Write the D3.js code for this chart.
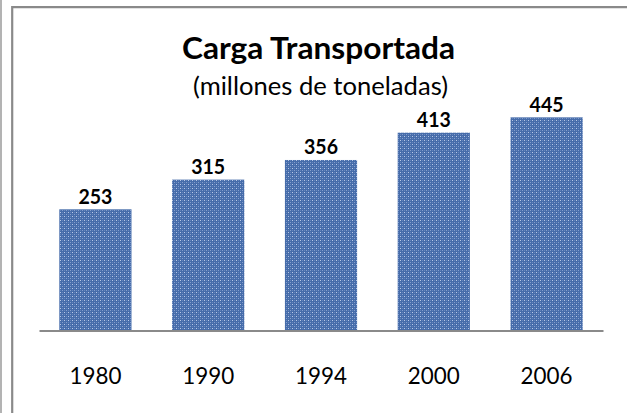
<!DOCTYPE html>
<html>
<head>
<meta charset="utf-8">
<script src="https://cdn.jsdelivr.net/npm/d3@7"></script>
<style>
  body { margin: 0; background: #fff; }
  text { font-family: Lato, "Open Sans", sans-serif; fill: #000; }
</style>
</head>
<body>
<div id="chart-area"></div>
<script>
// Data
var years = ["1980", "1990", "1994", "2000", "2006"];
var values = [253, 315, 356, 413, 445];
var title = "Carga Transportada";
var subtitle = "(millones de toneladas)";

var width = 627;
var height = 413;

var svg = d3.select("#chart-area")
    .append("svg")
    .attr("width", width)
    .attr("height", height);

// dotted fill for the bars
var pat = svg.append("defs").append("pattern")
    .attr("id", "dots")
    .attr("width", 4)
    .attr("height", 4)
    .attr("patternUnits", "userSpaceOnUse");
pat.append("rect").attr("width", 4).attr("height", 4).attr("fill", "#466caa");
pat.append("rect").attr("x", 0).attr("y", 0).attr("width", 1).attr("height", 1).attr("fill", "#b8c8e6");
pat.append("rect").attr("x", 2).attr("y", 2).attr("width", 1).attr("height", 1).attr("fill", "#849fce");
pat.append("rect").attr("x", 0).attr("y", 2).attr("width", 1).attr("height", 1).attr("fill", "#6585bc");
pat.append("rect").attr("x", 2).attr("y", 0).attr("width", 1).attr("height", 1).attr("fill", "#6585bc");

// frame lines
svg.append("line")
    .attr("x1", 1).attr("x2", 1).attr("y1", 0).attr("y2", height)
    .attr("stroke", "#9a9a9a").attr("stroke-width", 1.5);
svg.append("path")
    .attr("d", "M12.2," + height + "V7.2H" + width)
    .attr("fill", "none")
    .attr("stroke", "#8a8a8a")
    .attr("stroke-width", 2.2);

// SCALES
var x = d3.scaleBand()
    .domain(years)
    .range([39, 603])
    .paddingInner(0.36)
    .paddingOuter(0.18);

var y = d3.scaleLinear()
    .domain([0, 500])
    .range([330.5, 91]);

// bars
svg.selectAll("rect.bar").data(values).enter()
    .append("rect")
    .attr("class", "bar")
    .attr("x", (d, i) => x(years[i]))
    .attr("y", (d) => y(d))
    .attr("width", x.bandwidth())
    .attr("height", (d) => y(0) - y(d))
    .attr("fill", "url(#dots)");

// value labels
svg.selectAll("text.val").data(values).enter()
    .append("text")
    .attr("class", "val")
    .attr("x", (d, i) => x(years[i]) + x.bandwidth() / 2)
    .attr("y", (d) => y(d) - 5.5)
    .attr("text-anchor", "middle")
    .attr("font-size", "20px")
    .attr("font-weight", "bold")
    .attr("textLength", 34)
    .attr("lengthAdjust", "spacingAndGlyphs")
    .text((d) => d);

// x axis
var xAxis = d3.axisBottom(x).tickSize(0).tickPadding(0);
var xAxisGroup = svg.append("g")
    .attr("transform", "translate(0," + y(0) + ")")
    .call(xAxis);
xAxisGroup.select(".domain")
    .attr("stroke", "#8a8a8a")
    .attr("stroke-width", 2);
xAxisGroup.selectAll("text")
    .attr("dy", null)
    .attr("y", 53)
    .attr("font-size", "24px")
    .attr("font-family", "Lato, sans-serif")
    .attr("fill", "#000")
    .attr("textLength", 52)
    .attr("lengthAdjust", "spacingAndGlyphs");

// titles
svg.append("text")
    .attr("x", 318.5)
    .attr("y", 58.5)
    .attr("text-anchor", "middle")
    .attr("font-size", "30px")
    .attr("font-weight", "bold")
    .attr("textLength", 273)
    .attr("lengthAdjust", "spacingAndGlyphs")
    .text(title);

svg.append("text")
    .attr("x", 320.5)
    .attr("y", 95)
    .attr("text-anchor", "middle")
    .attr("font-size", "25px")
    .attr("textLength", 255)
    .attr("lengthAdjust", "spacingAndGlyphs")
    .text(subtitle);
</script>
</body>
</html>
